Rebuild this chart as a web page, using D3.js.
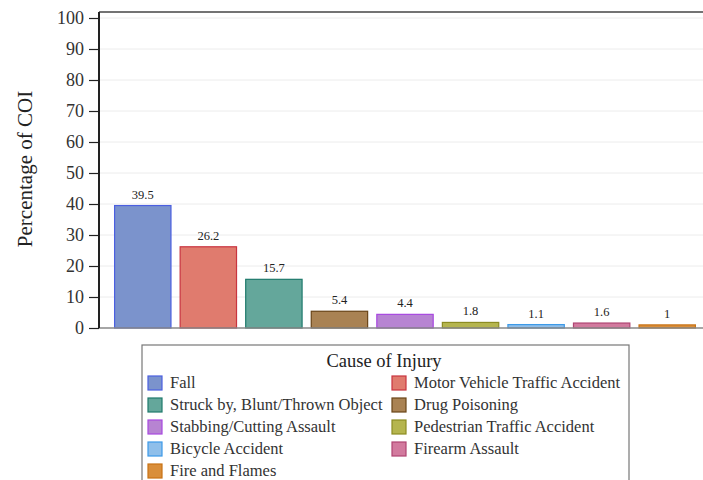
<!DOCTYPE html>
<html><head><meta charset="utf-8">
<script src="https://cdn.jsdelivr.net/npm/d3@7"></script>
<style>body{margin:0;background:#fff}svg{display:block}svg text{font-family:"Liberation Serif","Times New Roman",serif}</style>
</head><body><svg id="c" width="703" height="480"></svg>
<script>
const categories = ["Fall","Motor Vehicle Traffic Accident","Struck by, Blunt/Thrown Object","Drug Poisoning","Stabbing/Cutting Assault","Pedestrian Traffic Accident","Bicycle Accident","Firearm Assault","Fire and Flames"];
const values = [39.5,26.2,15.7,5.4,4.4,1.8,1.1,1.6,1];
const labels = ["39.5","26.2","15.7","5.4","4.4","1.8","1.1","1.6","1"];
const fills = ["#7b93cc","#e07b6e","#64a79b","#a98253","#b784d2","#b5b54e","#8fbfea","#d27a9e","#d98e3a"];
const strokes = ["#4b5fe0","#c9343f","#1e7a6c","#6a4518","#a848e0","#8c8c22","#3d9ae8","#b04472","#c87214"];
const yTicks = [0,10,20,30,40,50,60,70,80,90,100];

const svg = d3.select("#c");
const font = "Liberation Serif, Times New Roman, serif";
const L=99, R=703, T=18, B=328;
const x = d3.scaleBand().domain(categories).range([110,700]).paddingInner(0.14).paddingOuter(0.07);
const y = d3.scaleLinear().domain([0,100]).range([B,T]);

// grid
svg.append("g").selectAll("line").data(yTicks.slice(1)).join("line")
  .attr("x1",L).attr("x2",R).attr("y1",d=>y(d)).attr("y2",d=>y(d))
  .attr("stroke","#ececec").attr("stroke-width",1);
// top border
svg.append("line").attr("x1",L).attr("x2",R).attr("y1",12).attr("y2",12).attr("stroke","#444").attr("stroke-width",1.5);

// bars
svg.append("g").selectAll("rect").data(values).join("rect")
  .attr("x",(d,i)=>x(categories[i])).attr("width",x.bandwidth())
  .attr("y",d=>y(d)).attr("height",d=>B-y(d))
  .attr("fill",(d,i)=>fills[i]).attr("stroke",(d,i)=>strokes[i]).attr("stroke-width",1.2);

// value labels
svg.append("g").selectAll("text").data(values).join("text")
  .attr("x",(d,i)=>x(categories[i])+x.bandwidth()/2).attr("y",d=>y(d)-7)
  .attr("text-anchor","middle").style("font-family",font).attr("font-size",12.5).attr("fill","#222")
  .text((d,i)=>labels[i]);

// bottom axis
svg.append("line").attr("x1",L).attr("x2",R).attr("y1",B).attr("y2",B).attr("stroke","#888").attr("stroke-width",1.5);

// y axis
const ya = svg.append("g").attr("transform",`translate(${L},0)`)
  .call(d3.axisLeft(y).tickValues(yTicks).tickSize(10).tickPadding(5));
ya.attr("font-family",null);
ya.select(".domain").attr("stroke","#222").attr("stroke-width",2).attr("d",`M0,${B}V12`);
ya.selectAll(".tick line").attr("stroke","#222").attr("stroke-width",1.2);
ya.selectAll(".tick text").style("font-family",font).attr("font-size",18).attr("fill","#333");

svg.append("text").attr("transform",`translate(32,169) rotate(-90)`).attr("text-anchor","middle")
  .style("font-family",font).attr("font-size",21).attr("fill","#222").text("Percentage of COI");

// legend
const lg = svg.append("g");
lg.append("rect").attr("x",142).attr("y",345).attr("width",487).attr("height",150)
  .attr("fill","#fff").attr("stroke","#777").attr("stroke-width",1.2);
lg.append("text").attr("x",384).attr("y",367).attr("text-anchor","middle")
  .style("font-family",font).attr("font-size",18.5).attr("fill","#222").text("Cause of Injury");
const items = lg.selectAll("g.item").data(categories).join("g").attr("class","item")
  .attr("transform",(d,i)=>`translate(${i%2===0?148:392},${383+Math.floor(i/2)*22})`);
items.append("rect").attr("x",0).attr("y",-7).attr("width",14).attr("height",14)
  .attr("fill",(d,i)=>fills[i]).attr("stroke",(d,i)=>strokes[i]).attr("stroke-width",1.2);
items.append("text").attr("x",22).attr("y",5).style("font-family",font).attr("font-size",16.5).attr("fill","#333").text(d=>d);
</script></body></html>
